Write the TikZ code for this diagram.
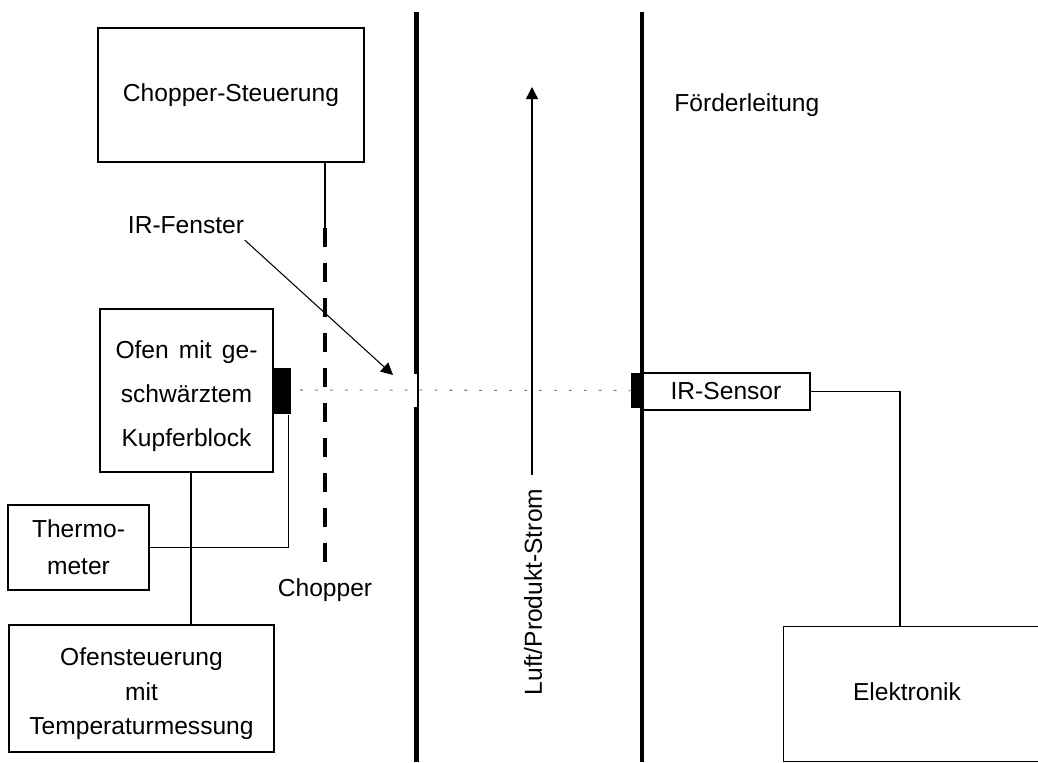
\documentclass[tikz,border=0pt]{standalone}
\usepackage{fontspec}
\setmainfont{Liberation Sans}
\usetikzlibrary{arrows.meta}

\begin{document}
\begin{tikzpicture}[x=0.02cm, y=-0.02cm, >={Triangle[length=2.4mm, width=2.4mm]}, line width=0.6pt,
  font=\fontsize{14}{17}\selectfont,
  box/.style={draw, line width=0.8pt, align=center, inner sep=0pt},
  block/.style={fill=black, inner sep=0pt},
  wall/.style={line width=2.8pt},
  chopper/.style={line width=2.3pt, dash pattern=on 11pt off 8.9pt},
  beam/.style={gray, line width=0.6pt, dash pattern=on 1.7pt off 6.8pt}]
  \useasboundingbox (0,0) rectangle (1038,762);
  % Kaesten links
  \node[box, minimum width=5.32cm, minimum height=2.68cm] (steuer) at (231,95) {Chopper-Steuerung};
  \node[box, minimum width=3.46cm, minimum height=3.26cm, font=\fontsize{14}{25}\selectfont] (ofen) at (186.5,390.5)
    {\rule{0pt}{17pt}\makebox[2.84cm][s]{Ofen\hfill mit\hfill ge-}\\schwärztem\\Kupferblock};
  \node[box, minimum width=2.82cm, minimum height=1.70cm, font=\fontsize{14}{21}\selectfont] (thermo) at (78.5,547.5) {Thermo-\\meter};
  \node[box, minimum width=5.30cm, minimum height=2.54cm, font=\fontsize{14}{19.5}\selectfont] (ofenst) at (141.5,688.5)
    {\rule{0pt}{16pt}Ofensteuerung\\mit\\Temperaturmessung};
  \node[block, minimum width=0.34cm, minimum height=0.92cm] (kblock) at (282.5,391) {};
  % Strahl
  \coordinate (strahl) at (300,390);
  \node[block, minimum width=0.22cm, minimum height=0.70cm] (sblock) at (636.5,390.5) {};
  \draw[beam] (strahl) -- (sblock.west);
  % Chopper
  \coordinate (chopoben) at (325,228);
  \coordinate (chopunten) at (325,562);
  \draw (steuer.south -| chopoben) -- (chopoben);
  \draw[chopper] (chopoben) -- (chopunten);
  \node (chopperlbl) at (325,590) {Chopper};
  % Leitungen Ofen
  \coordinate (ofenlinie) at (191,0);
  \draw (ofen.south -| ofenlinie) -- (ofenst.north -| ofenlinie);
  \draw ([xshift=0.12cm]kblock.south) |- (thermo.east);
  % Foerderleitung mit IR-Fenster
  \draw[wall] (416.5,12) -- (416.5,373);
  \draw[wall] (416.5,408) -- (416.5,762);
  \draw (414,373) -- (418,373) -- (418,408) -- (414,408);
  \draw[wall] (642,12) -- (642,762);
  \node[anchor=west] (foerder) at (668,105) {Förderleitung};
  \node[inner xsep=0pt] (fensterlbl) at (186,225) {IR-Fenster};
  \coordinate (fenster) at (393,375);
  \draw[->] (fensterlbl.south east) -- (fenster);
  % Stroemung
  \coordinate (stromunten) at (532,475);
  \coordinate (stromoben) at (532,87);
  \draw[->] (stromunten) -- (stromoben);
  \node[rotate=90] (stromlbl) at (533,592) {Luft/Produkt-Strom};
  % Sensor und Elektronik
  \node[box, minimum width=3.36cm, minimum height=0.74cm] (sensor) at (726,391.5) {IR-Sensor};
  \node[box, anchor=north west, minimum width=5.6cm, minimum height=2.7cm] (elek) at (783,626) {};
  \node (elektxt) at (907,692) {Elektronik};
  \coordinate (elekline) at (900,0);
  \draw (sensor.east) -- (sensor.east -| elekline) -- (elek.north -| elekline);
\end{tikzpicture}
\end{document}
